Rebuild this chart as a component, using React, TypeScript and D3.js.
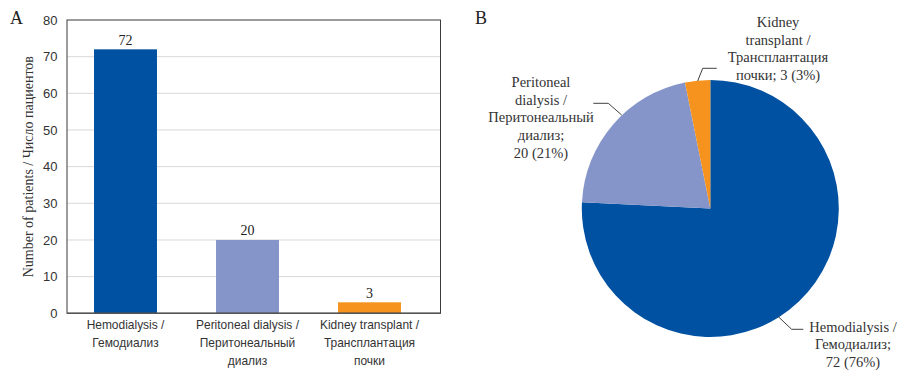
import React from "react";
import * as d3 from "d3";

const categories = ["Hemodialysis", "Peritoneal", "Kidney"];
const barLabelLines = [
  ["Hemodialysis /", "Гемодиализ"],
  ["Peritoneal dialysis /", "Перитонеальный", "диализ"],
  ["Kidney transplant /", "Трансплантация", "почки"],
];
const values = [72, 20, 3];
const colors = ["#0051A1", "#8595C9", "#F5931E"];
const yTicks = [0, 10, 20, 30, 40, 50, 60, 70, 80];
const pieLabelLines = [
  ["Hemodialysis /", "Гемодиализ;", "72 (76%)"],
  ["Peritoneal", "dialysis /", "Перитонеальный", "диализ;", "20 (21%)"],
  ["Kidney", "transplant /", "Трансплантация", "почки; 3 (3%)"],
];
const yTitle = "Number of patients / Число пациентов";

const SANS = "'Liberation Sans', Arial, sans-serif";
const SERIF = "'Liberation Serif', 'Times New Roman', serif";

export default function App() {
  // Bar chart geometry
  const frame = { left: 67, right: 440.5, top: 20, bottom: 313.3 };
  const y = d3.scaleLinear().domain([0, 80]).range([frame.bottom, frame.top]);
  const x = d3
    .scaleBand<string>()
    .domain(categories)
    .range([64.5, 430.5])
    .paddingInner(0.484)
    .paddingOuter(0.242);

  // Pie geometry
  const cx = 710.3;
  const cy = 208.5;
  const r = 128.5;
  const pie = d3
    .pie<number>()
    .sort(null)
    .startAngle(0)
    .endAngle(2 * Math.PI)(values);
  const arc = d3.arc<d3.PieArcDatum<number>>().innerRadius(0).outerRadius(r);

  const pieLabelPos = [
    { x: 853, y: 331.5 },
    { x: 541, y: 87 },
    { x: 778, y: 27 },
  ];
  const pieLabelLH = [17.8, 17.7, 17.7];
  const leaders = [
    [
      [778.3, 316.7],
      [791.7, 329.3],
      [803.3, 329.3],
    ],
    [
      [621.7, 115],
      [608.3, 103.3],
      [593.3, 103.3],
    ],
    [
      [697.7, 81],
      [702.7, 68.3],
      [716.7, 68.3],
    ],
  ];
  const line = d3.line();

  return (
    <svg
      width={908}
      height={383}
      style={{ position: "absolute", left: 0, top: 0, background: "#fff" }}
    >
      <rect width={908} height={383} fill="#fff" />
      {/* Panel A */}
      <text x={10} y={24} fontFamily={SERIF} fontSize={18} fill="#222">
        A
      </text>
      {yTicks
        .filter((t) => t > 0 && t < 80)
        .map((t) => (
          <line
            key={"g" + t}
            x1={frame.left}
            x2={frame.right}
            y1={y(t)}
            y2={y(t)}
            stroke="#d9d9d9"
            strokeWidth={1}
          />
        ))}
      {categories.map((c, i) => (
        <rect
          key={"b" + c}
          x={x(c)}
          y={y(values[i])}
          width={x.bandwidth()}
          height={y(0) - y(values[i])}
          fill={colors[i]}
        />
      ))}
      <rect
        x={frame.left}
        y={frame.top}
        width={frame.right - frame.left}
        height={frame.bottom - frame.top}
        fill="none"
        stroke="#3a3a3a"
        strokeWidth={1}
      />
      <line
        x1={frame.left}
        x2={frame.right}
        y1={frame.bottom}
        y2={frame.bottom}
        stroke="#555"
        strokeWidth={1.4}
      />
      {yTicks.map((t) => (
        <text
          key={"t" + t}
          x={57.5}
          y={y(t)}
          dy="0.36em"
          textAnchor="end"
          fontFamily={SANS}
          fontSize={13}
          fill="#333"
        >
          {t}
        </text>
      ))}
      {categories.map((c, i) => (
        <text
          key={"v" + c}
          x={(x(c) as number) + x.bandwidth() / 2}
          y={y(values[i]) - 4.5}
          textAnchor="middle"
          fontFamily={SERIF}
          fontSize={14}
          fill="#222"
        >
          {values[i]}
        </text>
      ))}
      {categories.map((c, i) => (
        <g
          key={"c" + c}
          transform={`translate(${(x(c) as number) + x.bandwidth() / 2},0) scale(0.92,1)`}
        >
          <text
            textAnchor="middle"
            fontFamily={SANS}
            fontSize={13}
            fill="#333"
          >
            {barLabelLines[i].map((l, j) => (
              <tspan key={j} x={0} y={329 + j * 18}>
                {l}
              </tspan>
            ))}
          </text>
        </g>
      ))}
      <text
        transform={`translate(33,${(frame.top + frame.bottom) / 2}) rotate(-90)`}
        textAnchor="middle"
        fontFamily={SERIF}
        fontSize={14}
        fill="#333"
      >
        {yTitle}
      </text>

      {/* Panel B */}
      <text x={475} y={24} fontFamily={SERIF} fontSize={18} fill="#222">
        B
      </text>
      <g transform={`translate(${cx},${cy})`}>
        {pie.map((d, i) => (
          <path key={"p" + i} d={arc(d) || ""} fill={colors[i]} />
        ))}
      </g>
      {leaders.map((pts, i) => (
        <path
          key={"l" + i}
          d={line(pts as [number, number][]) || ""}
          fill="none"
          stroke="#404040"
          strokeWidth={1}
        />
      ))}
      {pieLabelLines.map((lines, i) => (
        <text
          key={"pl" + i}
          textAnchor="middle"
          fontFamily={SERIF}
          fontSize={14.5}
          fill="#333"
        >
          {lines.map((l, j) => (
            <tspan
              key={j}
              x={pieLabelPos[i].x}
              y={pieLabelPos[i].y + j * pieLabelLH[i]}
            >
              {l}
            </tspan>
          ))}
        </text>
      ))}
    </svg>
  );
}
